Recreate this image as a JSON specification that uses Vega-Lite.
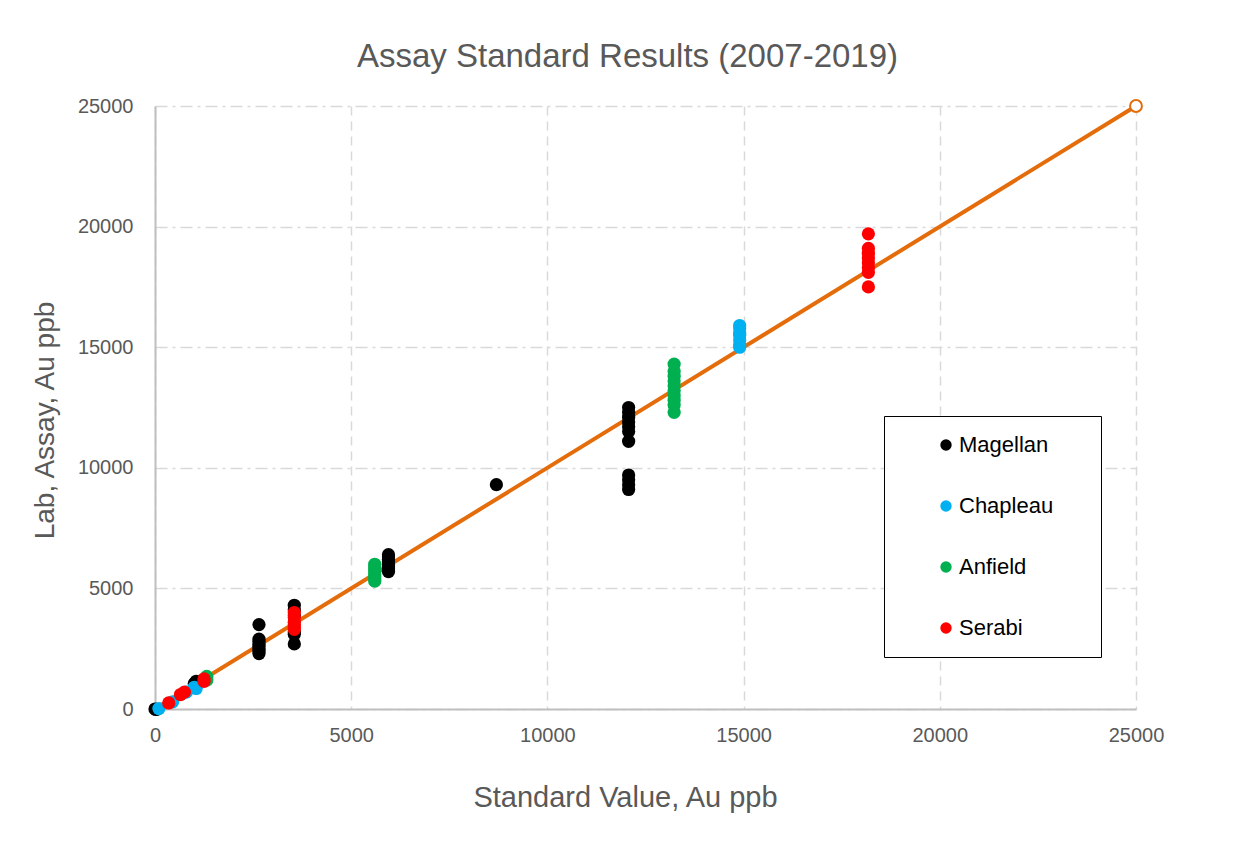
{
  "$schema": "https://vega.github.io/schema/vega-lite/v6.json",
  "width": 981,
  "height": 603,
  "autosize": {"type": "none"},
  "padding": {"left": 155, "top": 106, "right": 116, "bottom": 144},
  "background": "white",
  "config": {"view": {"stroke": null}},
  "title": {
    "text": "Assay Standard Results (2007-2019)",
    "font": "Liberation Sans",
    "fontSize": 33,
    "fontWeight": "normal",
    "color": "#595959",
    "anchor": "middle",
    "dx": -18,
    "offset": 22
  },
  "datasets": {
    "pts": [
      {"std": 0, "lab": 0, "source": "Magellan"},
      {"std": 30, "lab": -20, "source": "Magellan"},
      {"std": 1050, "lab": 1150, "source": "Magellan"},
      {"std": 1000, "lab": 1050, "source": "Magellan"},
      {"std": 2650, "lab": 3500, "source": "Magellan"},
      {"std": 2650, "lab": 2900, "source": "Magellan"},
      {"std": 2650, "lab": 2800, "source": "Magellan"},
      {"std": 2650, "lab": 2700, "source": "Magellan"},
      {"std": 2650, "lab": 2600, "source": "Magellan"},
      {"std": 2650, "lab": 2500, "source": "Magellan"},
      {"std": 2650, "lab": 2400, "source": "Magellan"},
      {"std": 2650, "lab": 2300, "source": "Magellan"},
      {"std": 3550, "lab": 4300, "source": "Magellan"},
      {"std": 3550, "lab": 4100, "source": "Magellan"},
      {"std": 3550, "lab": 3900, "source": "Magellan"},
      {"std": 3550, "lab": 3200, "source": "Magellan"},
      {"std": 3550, "lab": 3100, "source": "Magellan"},
      {"std": 3550, "lab": 2700, "source": "Magellan"},
      {"std": 5950, "lab": 6400, "source": "Magellan"},
      {"std": 5950, "lab": 6300, "source": "Magellan"},
      {"std": 5950, "lab": 6200, "source": "Magellan"},
      {"std": 5950, "lab": 6100, "source": "Magellan"},
      {"std": 5950, "lab": 6000, "source": "Magellan"},
      {"std": 5950, "lab": 5900, "source": "Magellan"},
      {"std": 5950, "lab": 5800, "source": "Magellan"},
      {"std": 5950, "lab": 5700, "source": "Magellan"},
      {"std": 8700, "lab": 9300, "source": "Magellan"},
      {"std": 12070, "lab": 12500, "source": "Magellan"},
      {"std": 12070, "lab": 12300, "source": "Magellan"},
      {"std": 12070, "lab": 12100, "source": "Magellan"},
      {"std": 12070, "lab": 11900, "source": "Magellan"},
      {"std": 12070, "lab": 11700, "source": "Magellan"},
      {"std": 12070, "lab": 11500, "source": "Magellan"},
      {"std": 12070, "lab": 11100, "source": "Magellan"},
      {"std": 12070, "lab": 9700, "source": "Magellan"},
      {"std": 12070, "lab": 9500, "source": "Magellan"},
      {"std": 12070, "lab": 9300, "source": "Magellan"},
      {"std": 12070, "lab": 9100, "source": "Magellan"},
      {"std": 100, "lab": 20, "source": "Chapleau"},
      {"std": 450, "lab": 300, "source": "Chapleau"},
      {"std": 800, "lab": 700, "source": "Chapleau"},
      {"std": 1000, "lab": 900, "source": "Chapleau"},
      {"std": 1050, "lab": 850, "source": "Chapleau"},
      {"std": 14900, "lab": 15900, "source": "Chapleau"},
      {"std": 14900, "lab": 15800, "source": "Chapleau"},
      {"std": 14900, "lab": 15600, "source": "Chapleau"},
      {"std": 14900, "lab": 15500, "source": "Chapleau"},
      {"std": 14900, "lab": 15300, "source": "Chapleau"},
      {"std": 14900, "lab": 15100, "source": "Chapleau"},
      {"std": 14900, "lab": 15000, "source": "Chapleau"},
      {"std": 1320, "lab": 1350, "source": "Anfield"},
      {"std": 1320, "lab": 1200, "source": "Anfield"},
      {"std": 5600, "lab": 6000, "source": "Anfield"},
      {"std": 5600, "lab": 5900, "source": "Anfield"},
      {"std": 5600, "lab": 5800, "source": "Anfield"},
      {"std": 5600, "lab": 5700, "source": "Anfield"},
      {"std": 5600, "lab": 5600, "source": "Anfield"},
      {"std": 5600, "lab": 5500, "source": "Anfield"},
      {"std": 5600, "lab": 5400, "source": "Anfield"},
      {"std": 5600, "lab": 5300, "source": "Anfield"},
      {"std": 13230, "lab": 14300, "source": "Anfield"},
      {"std": 13230, "lab": 14000, "source": "Anfield"},
      {"std": 13230, "lab": 13800, "source": "Anfield"},
      {"std": 13230, "lab": 13600, "source": "Anfield"},
      {"std": 13230, "lab": 13400, "source": "Anfield"},
      {"std": 13230, "lab": 13200, "source": "Anfield"},
      {"std": 13230, "lab": 13000, "source": "Anfield"},
      {"std": 13230, "lab": 12800, "source": "Anfield"},
      {"std": 13230, "lab": 12600, "source": "Anfield"},
      {"std": 13230, "lab": 12300, "source": "Anfield"},
      {"std": 350, "lab": 250, "source": "Serabi"},
      {"std": 650, "lab": 600, "source": "Serabi"},
      {"std": 750, "lab": 700, "source": "Serabi"},
      {"std": 1250, "lab": 1150, "source": "Serabi"},
      {"std": 1250, "lab": 1250, "source": "Serabi"},
      {"std": 3550, "lab": 4000, "source": "Serabi"},
      {"std": 3550, "lab": 3800, "source": "Serabi"},
      {"std": 3550, "lab": 3600, "source": "Serabi"},
      {"std": 3550, "lab": 3500, "source": "Serabi"},
      {"std": 3550, "lab": 3400, "source": "Serabi"},
      {"std": 3550, "lab": 3300, "source": "Serabi"},
      {"std": 18180, "lab": 19700, "source": "Serabi"},
      {"std": 18180, "lab": 19100, "source": "Serabi"},
      {"std": 18180, "lab": 18900, "source": "Serabi"},
      {"std": 18180, "lab": 18700, "source": "Serabi"},
      {"std": 18180, "lab": 18500, "source": "Serabi"},
      {"std": 18180, "lab": 18300, "source": "Serabi"},
      {"std": 18180, "lab": 18100, "source": "Serabi"},
      {"std": 18180, "lab": 17500, "source": "Serabi"}
    ],
    "ref": [
      {"std": 0, "lab": 0, "end": false},
      {"std": 25000, "lab": 25000, "end": true}
    ]
  },
  "layer": [
    {
      "data": {"name": "ref"},
      "mark": {"type": "line", "color": "#E46C0A", "strokeWidth": 4},
      "encoding": {
        "x": {"field": "std", "type": "quantitative"},
        "y": {"field": "lab", "type": "quantitative"}
      }
    },
    {
      "data": {"name": "ref"},
      "transform": [{"filter": "datum.end"}],
      "mark": {"type": "point", "shape": "circle", "filled": false, "fill": "white", "stroke": "#E46C0A", "strokeWidth": 2, "size": 140, "opacity": 1},
      "encoding": {
        "x": {"field": "std", "type": "quantitative"},
        "y": {"field": "lab", "type": "quantitative"}
      }
    },
    {
      "data": {"name": "pts"},
      "mark": {"type": "circle", "size": 175, "opacity": 1, "clip": false},
      "encoding": {
        "x": {
          "field": "std", "type": "quantitative",
          "scale": {"domain": [0, 25000], "nice": false, "zero": true},
          "axis": {
            "title": "Standard Value, Au ppb",
            "values": [0, 5000, 10000, 15000, 20000, 25000],
            "format": "d",
            "grid": true, "gridColor": "#D9D9D9", "gridDash": [9, 6], "gridWidth": 1.5,
            "domainColor": "#BFBFBF", "domainWidth": 2,
            "ticks": false,
            "labelFont": "Liberation Sans", "labelFontSize": 20, "labelColor": "#595959", "labelPadding": 16,
            "labelFlush": false,
            "titleFont": "Liberation Sans", "titleFontSize": 29, "titleFontWeight": "normal", "titleColor": "#595959",
            "titleX": 470, "titleY": 88, "titleBaseline": "middle", "titleAlign": "center"
          }
        },
        "y": {
          "field": "lab", "type": "quantitative",
          "scale": {"domain": [0, 25000], "nice": false, "zero": true},
          "axis": {
            "title": "Lab, Assay, Au ppb",
            "values": [0, 5000, 10000, 15000, 20000, 25000],
            "format": "d",
            "grid": true, "gridColor": "#D9D9D9", "gridDash": [12, 5, 3, 5], "gridWidth": 1.5,
            "domainColor": "#BFBFBF", "domainWidth": 2,
            "ticks": false,
            "labelFont": "Liberation Sans", "labelFontSize": 20, "labelColor": "#595959", "labelPadding": 22,
            "labelFlush": false,
            "titleFont": "Liberation Sans", "titleFontSize": 28, "titleFontWeight": "normal", "titleColor": "#595959",
            "titleX": -110, "titleY": 314, "titleBaseline": "middle", "titleAlign": "center", "titleAngle": -90
          }
        },
        "color": {
          "field": "source", "type": "nominal",
          "scale": {"domain": ["Magellan", "Chapleau", "Anfield", "Serabi"], "range": ["#000000", "#00B0F0", "#00B050", "#FF0000"]},
          "legend": {
            "title": "MM",
            "titleOrient": "right",
            "titleFontSize": 17,
            "titleColor": "#FFFFFF",
            "titleOpacity": 0,
            "titlePadding": 1,
            "orient": "none",
            "legendX": 729,
            "legendY": 310,
            "direction": "vertical",
            "fillColor": "white",
            "strokeColor": "#000000",
            "padding": 18,
            "symbolOffset": 33,
            "symbolType": "circle",
            "symbolSize": 130,
            "symbolStrokeWidth": 0,
            "labelFont": "Liberation Sans",
            "labelFontSize": 22,
            "labelColor": "#000000",
            "labelOffset": 2,
            "rowPadding": 39
          }
        }
      }
    }
  ]
}
